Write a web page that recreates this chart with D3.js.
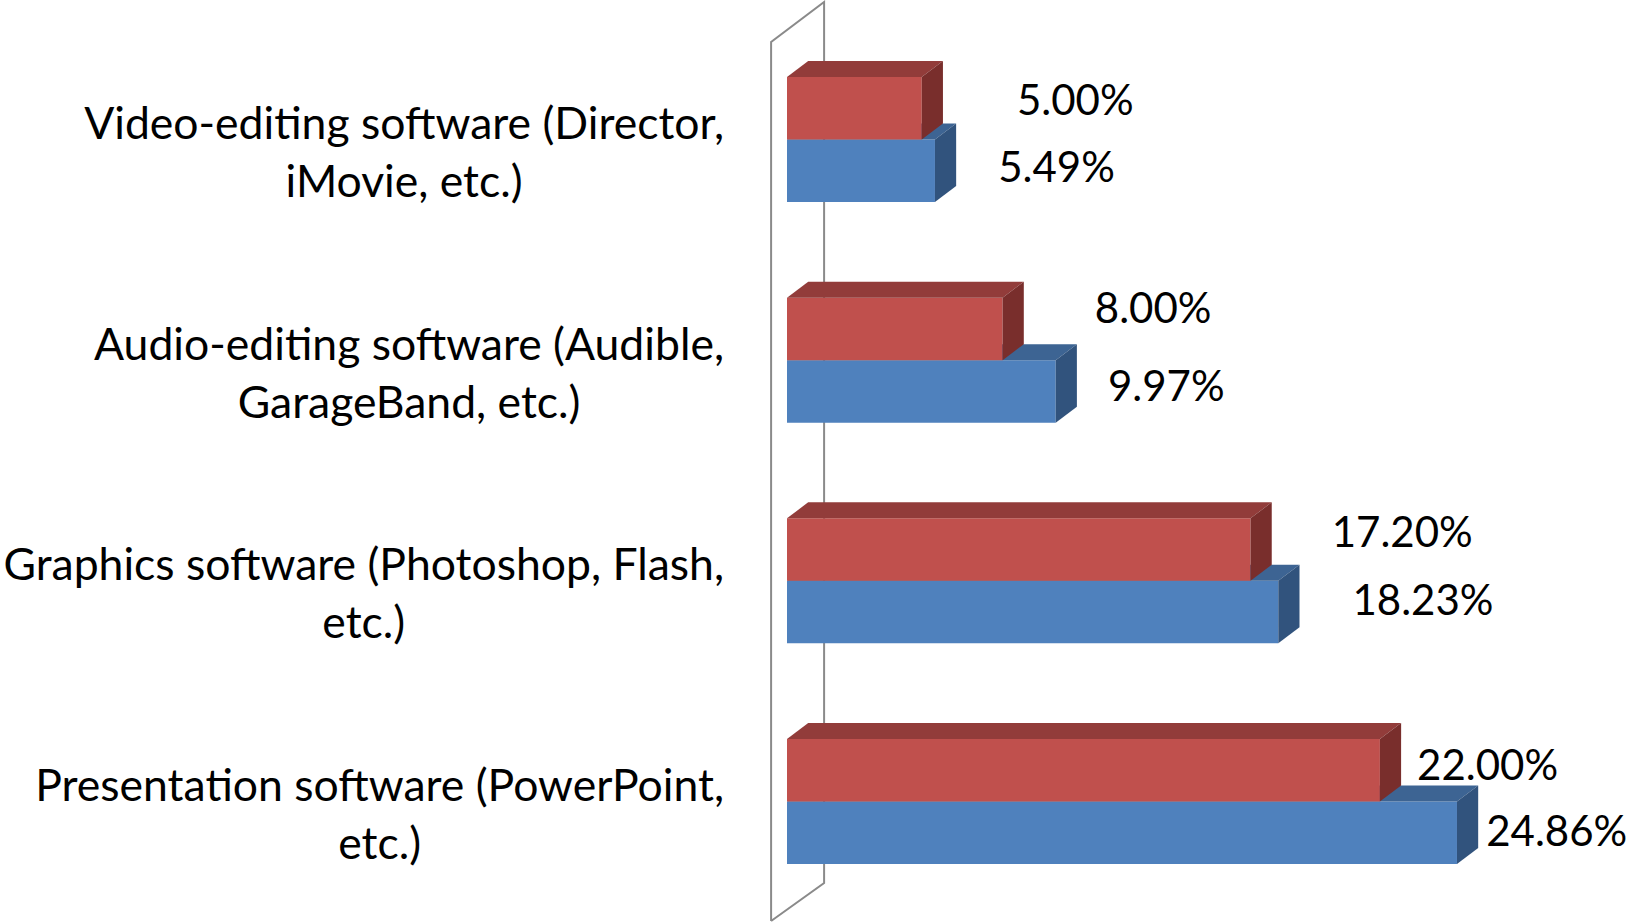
<!DOCTYPE html>
<html>
<head>
<meta charset="utf-8">
<script src="https://cdn.jsdelivr.net/npm/d3@7"></script>
<style>
  body { margin: 0; background: #fff; }
  svg text { font-family: Lato, "Noto Sans", sans-serif; fill: #000; }
</style>
</head>
<body>
<svg id="chart" width="1629" height="922"></svg>
<script>
// data, top to bottom as drawn
var categories = [
  "Video-editing software (Director, iMovie, etc.)",
  "Audio-editing software (Audible, GarageBand, etc.)",
  "Graphics software (Photoshop, Flash, etc.)",
  "Presentation software (PowerPoint, etc.)"
];
var seriesRed  = [0.0500, 0.0800, 0.1720, 0.2200];
var seriesBlue = [0.0549, 0.0997, 0.1823, 0.2486];

var width = 1629
  , height = 922
  , valueFont = 42
  , catFont = 44.5
  , labelWrap = 745
  , labelRight = 724;

// depth of the floor and of the bars (bars sit between 0.3 and 0.7 of it)
var floorDx = 53, floorDy = -40;
var barStart = 0.3, barEnd = 0.7;
var bdx = floorDx * (barEnd - barStart)
  , bdy = floorDy * (barEnd - barStart);

var colors = {
  red:  { front: "#C0504D", top: "#923C3A", side: "#792E2C" },
  blue: { front: "#4F81BD", top: "#3D6493", side: "#31537D" }
};

// hand-placed data labels in the original (offset from bar end / middle)
var labelNudge = {
  red:  [[74, 7], [71, -6], [60, -3], [16, 10]],
  blue: [[42, 11], [31, 10], [53, 3], [8, 13]]
};

var svg = d3.select("#chart");

var x = d3.scaleLinear().domain([0, 0.25]).range([787, 787 + 673.75]);
var yGroup = d3.scalePoint().domain(categories).range([77, 739]);
var ySeries = d3.scaleBand().domain(["red", "blue"]).range([0, 125]);
var fmt = d3.format(".2%");

// side wall (value axis plane)
var wallFrontX = x(0) - floorDx * barStart
  , wallTop = 42
  , wallBottom = 921;
svg.append("path")
  .attr("d", d3.line()([
    [wallFrontX, wallBottom],
    [wallFrontX, wallTop],
    [wallFrontX + floorDx, wallTop + floorDy],
    [wallFrontX + floorDx, wallBottom + floorDy + 2],
    [wallFrontX, wallBottom]
  ]))
  .attr("fill", "none")
  .attr("stroke", "#8A8A8A")
  .attr("stroke-width", 2);

function bar(g, key, v, top) {
  var x0 = x(0), x1 = x(v), h = ySeries.bandwidth(), b = top + h;
  var c = colors[key];
  g.append("polygon").attr("fill", c.front)
    .attr("points", [[x0, top], [x1, top], [x1, b], [x0, b]].join(" "));
  g.append("polygon").attr("fill", c.top)
    .attr("points", [[x0, top], [x1, top], [x1 + bdx, top + bdy], [x0 + bdx, top + bdy]].join(" "));
  g.append("polygon").attr("fill", c.side)
    .attr("points", [[x1, top], [x1 + bdx, top + bdy], [x1 + bdx, b + bdy], [x1, b]].join(" "));
}

var bars = svg.append("g");
categories.forEach(function(cat, i) {
  var g = bars.append("g");
  // lower series first so the upper bar covers it
  bar(g, "blue", seriesBlue[i], yGroup(cat) + ySeries("blue"));
  bar(g, "red", seriesRed[i], yGroup(cat) + ySeries("red"));
});

// data labels
var labels = svg.append("g").style("font-size", valueFont + "px");
[["red", seriesRed], ["blue", seriesBlue]].forEach(function(s) {
  var key = s[0], vals = s[1];
  vals.forEach(function(v, i) {
    var mid = yGroup(categories[i]) + ySeries(key) + ySeries.bandwidth() / 2;
    labels.append("text")
      .attr("x", x(v) + bdx + labelNudge[key][i][0])
      .attr("y", mid + labelNudge[key][i][1])
      .text(fmt(v));
  });
});

// category labels, wrapped and centred on each other
var catG = svg.append("g").style("font-size", catFont + "px");
categories.forEach(function(cat) {
  var t = catG.append("text").attr("text-anchor", "middle");
  var words = cat.split(" "), lines = [], line = [];
  var probe = t.append("tspan");
  words.forEach(function(w) {
    line.push(w);
    probe.text(line.join(" "));
    if (probe.node().getComputedTextLength() > labelWrap && line.length > 1) {
      line.pop();
      lines.push(line.join(" "));
      line = [w];
    }
  });
  lines.push(line.join(" "));
  var widest = 0;
  lines.forEach(function(l) {
    probe.text(l);
    widest = Math.max(widest, probe.node().getComputedTextLength());
  });
  probe.remove();
  var cx = labelRight - widest / 2
    , y0 = yGroup(cat) + 62;
  lines.forEach(function(l, j) {
    t.append("tspan").attr("x", cx).attr("y", y0 + j * 58).text(l);
  });
});
</script>
</body>
</html>
